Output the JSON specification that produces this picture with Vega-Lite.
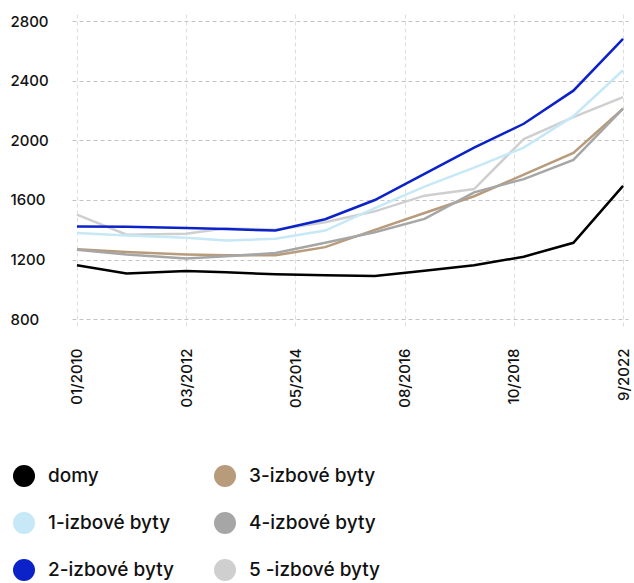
{
  "$schema": "https://vega.github.io/schema/vega-lite/v6.json",
  "width": 556,
  "height": 315,
  "autosize": {"type": "none"},
  "padding": {"left": 72, "top": 14, "right": 6, "bottom": 254},
  "background": "white",
  "config": {
    "font": "Inter",
    "view": {"stroke": null},
    "axis": {"labelFont": "Inter", "labelColor": "#111111", "labelFontWeight": 500}
  },
  "datasets": {
    "d": [
      {"t": 0, "s": "5 -izbové byty", "v": 1502}, {"t": 1, "s": "5 -izbové byty", "v": 1367}, {"t": 2.2, "s": "5 -izbové byty", "v": 1373}, {"t": 3, "s": "5 -izbové byty", "v": 1411}, {"t": 4, "s": "5 -izbové byty", "v": 1400}, {"t": 5, "s": "5 -izbové byty", "v": 1451}, {"t": 6, "s": "5 -izbové byty", "v": 1524}, {"t": 7, "s": "5 -izbové byty", "v": 1629}, {"t": 8, "s": "5 -izbové byty", "v": 1673}, {"t": 9, "s": "5 -izbové byty", "v": 2009}, {"t": 10, "s": "5 -izbové byty", "v": 2155}, {"t": 11, "s": "5 -izbové byty", "v": 2290},
      {"t": 0, "s": "3-izbové byty", "v": 1269}, {"t": 1, "s": "3-izbové byty", "v": 1251}, {"t": 2.2, "s": "3-izbové byty", "v": 1235}, {"t": 3, "s": "3-izbové byty", "v": 1229}, {"t": 4, "s": "3-izbové byty", "v": 1229}, {"t": 5, "s": "3-izbové byty", "v": 1284}, {"t": 6, "s": "3-izbové byty", "v": 1400}, {"t": 7, "s": "3-izbové byty", "v": 1513}, {"t": 8, "s": "3-izbové byty", "v": 1625}, {"t": 9, "s": "3-izbové byty", "v": 1770}, {"t": 10, "s": "3-izbové byty", "v": 1915}, {"t": 11, "s": "3-izbové byty", "v": 2213},
      {"t": 0, "s": "4-izbové byty", "v": 1267}, {"t": 1, "s": "4-izbové byty", "v": 1235}, {"t": 2.2, "s": "4-izbové byty", "v": 1207}, {"t": 3, "s": "4-izbové byty", "v": 1222}, {"t": 4, "s": "4-izbové byty", "v": 1244}, {"t": 5, "s": "4-izbové byty", "v": 1313}, {"t": 6, "s": "4-izbové byty", "v": 1384}, {"t": 7, "s": "4-izbové byty", "v": 1473}, {"t": 8, "s": "4-izbové byty", "v": 1651}, {"t": 9, "s": "4-izbové byty", "v": 1740}, {"t": 10, "s": "4-izbové byty", "v": 1869}, {"t": 11, "s": "4-izbové byty", "v": 2213},
      {"t": 0, "s": "1-izbové byty", "v": 1378}, {"t": 1, "s": "1-izbové byty", "v": 1362}, {"t": 2.2, "s": "1-izbové byty", "v": 1347}, {"t": 3, "s": "1-izbové byty", "v": 1329}, {"t": 4, "s": "1-izbové byty", "v": 1340}, {"t": 5, "s": "1-izbové byty", "v": 1395}, {"t": 6, "s": "1-izbové byty", "v": 1545}, {"t": 7, "s": "1-izbové byty", "v": 1690}, {"t": 8, "s": "1-izbové byty", "v": 1817}, {"t": 9, "s": "1-izbové byty", "v": 1951}, {"t": 10, "s": "1-izbové byty", "v": 2162}, {"t": 11, "s": "1-izbové byty", "v": 2470},
      {"t": 0, "s": "2-izbové byty", "v": 1422}, {"t": 1, "s": "2-izbové byty", "v": 1420}, {"t": 2.2, "s": "2-izbové byty", "v": 1413}, {"t": 3, "s": "2-izbové byty", "v": 1405}, {"t": 4, "s": "2-izbové byty", "v": 1395}, {"t": 5, "s": "2-izbové byty", "v": 1471}, {"t": 6, "s": "2-izbové byty", "v": 1600}, {"t": 7, "s": "2-izbové byty", "v": 1775}, {"t": 8, "s": "2-izbové byty", "v": 1951}, {"t": 9, "s": "2-izbové byty", "v": 2111}, {"t": 10, "s": "2-izbové byty", "v": 2333}, {"t": 11, "s": "2-izbové byty", "v": 2680},
      {"t": 0, "s": "domy", "v": 1162}, {"t": 1, "s": "domy", "v": 1107}, {"t": 2.2, "s": "domy", "v": 1124}, {"t": 3, "s": "domy", "v": 1115}, {"t": 4, "s": "domy", "v": 1102}, {"t": 5, "s": "domy", "v": 1095}, {"t": 6, "s": "domy", "v": 1091}, {"t": 7, "s": "domy", "v": 1125}, {"t": 8, "s": "domy", "v": 1162}, {"t": 9, "s": "domy", "v": 1220}, {"t": 10, "s": "domy", "v": 1313}, {"t": 11, "s": "domy", "v": 1695}
    ]
  },
  "data": {"name": "d"},
  "mark": {"type": "line", "strokeWidth": 2.5, "strokeJoin": "miter"},
  "encoding": {
    "x": {
      "field": "t",
      "type": "quantitative",
      "scale": {"domain": [-0.1, 11.1], "nice": false, "zero": false},
      "axis": {
        "title": null,
        "values": [0, 2.2, 4.4, 6.6, 8.8, 11],
        "labelExpr": "datum.value == 0 ? '01/2010' : datum.value == 2.2 ? '03/2012' : datum.value == 4.4 ? '05/2014' : datum.value == 6.6 ? '08/2016' : datum.value == 8.8 ? '10/2018' : '9/2022'",
        "labelAngle": -90,
        "labelAlign": "right",
        "labelBaseline": "middle",
        "labelFontSize": 15,
        "labelPadding": 19,
        "ticks": false,
        "domain": false,
        "grid": true,
        "gridColor": "#dddddd",
        "gridDash": [4, 3],
        "gridWidth": 1
      }
    },
    "y": {
      "field": "v",
      "type": "quantitative",
      "scale": {"domain": [735, 2847], "nice": false, "zero": false},
      "axis": {
        "title": null,
        "values": [800, 1200, 1600, 2000, 2400, 2800],
        "format": "d",
        "labelAlign": "left",
        "labelBaseline": "middle",
        "labelFontSize": 15,
        "labelPadding": 62,
        "ticks": false,
        "domain": false,
        "grid": true,
        "gridColor": "#c4c4c4",
        "gridDash": [4, 3],
        "gridWidth": 1
      }
    },
    "color": {
      "field": "s",
      "type": "nominal",
      "scale": {
        "domain": ["domy", "1-izbové byty", "2-izbové byty", "3-izbové byty", "4-izbové byty", "5 -izbové byty"],
        "range": ["#000000", "#c6e8f7", "#0b22c9", "#b89b7a", "#a6a6a6", "#cfcfcf"]
      },
      "legend": {
        "title": null,
        "orient": "none",
        "legendX": -59,
        "legendY": 451,
        "columns": 2,
        "padding": 0,
        "symbolType": "circle",
        "symbolSize": 484,
        "symbolStrokeWidth": 0,
        "labelFontSize": 19,
        "labelFontWeight": 500,
        "labelFont": "Inter",
        "labelColor": "#111111",
        "labelOffset": 13,
        "rowPadding": 25,
        "columnPadding": 40,
        "labelLimit": 300,
        "encode": {
          "symbols": {"update": {"fill": {"scale": "color", "field": "value"}, "strokeWidth": {"value": 0}}}
        }
      }
    }
  }
}
